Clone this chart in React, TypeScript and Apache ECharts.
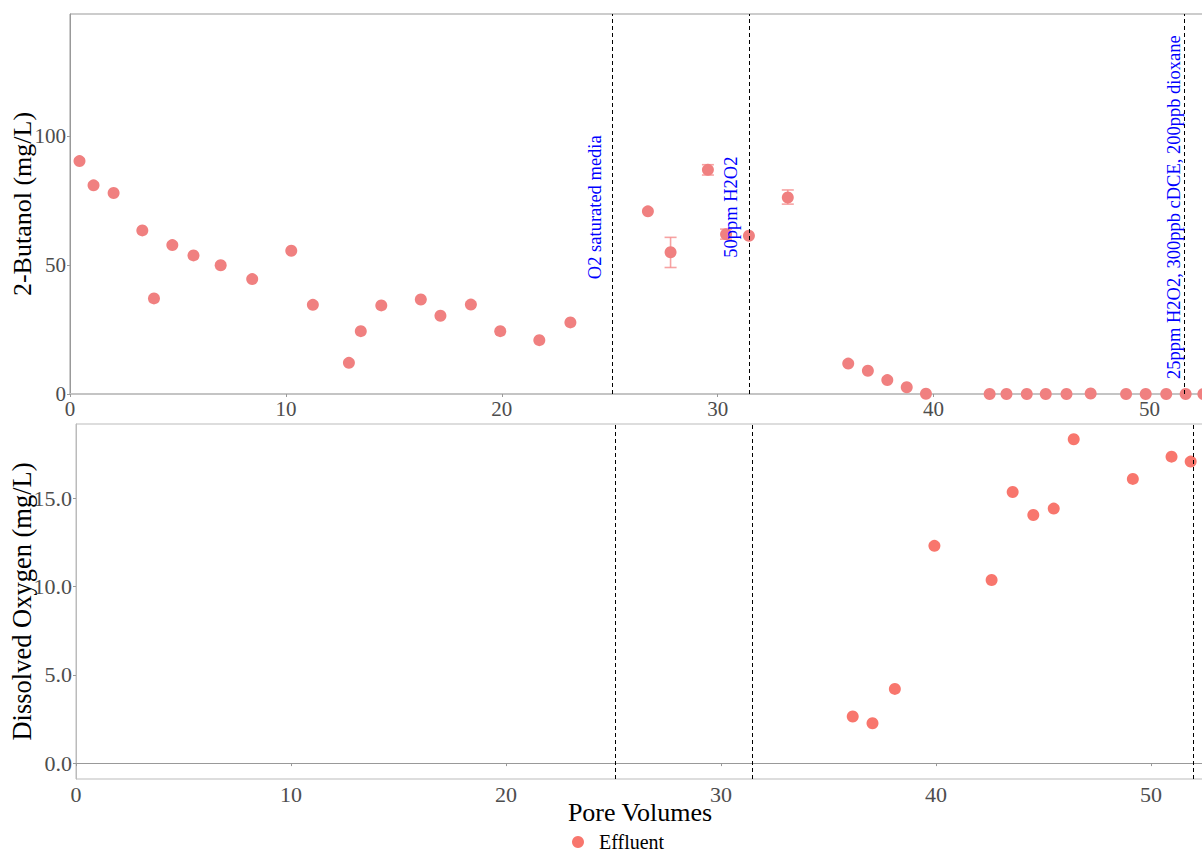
import React, { useEffect, useRef } from "react";
import * as echarts from "echarts";

// ---- Data ----
// Top panel: 2-Butanol (mg/L) vs Pore Volumes
const butanolX = [0.44, 1.09, 2.02, 3.35, 3.89, 4.74, 5.72, 6.98, 8.44, 10.25, 11.25, 12.92, 13.47, 14.42, 16.25, 17.16, 18.57, 19.93, 21.74, 23.18, 26.77, 27.82, 29.55, 30.39, 31.45, 33.25, 36.05, 36.96, 37.86, 38.76, 39.65, 42.6, 43.38, 44.32, 45.2, 46.16, 47.28, 48.92, 49.83, 50.78, 51.68, 52.5];
const butanolY = [90.4, 81.0, 78.0, 63.5, 37.1, 57.8, 53.8, 50.0, 44.6, 55.6, 34.6, 12.1, 24.4, 34.4, 36.7, 30.4, 34.7, 24.4, 20.9, 27.8, 70.9, 55.0, 87.0, 62.0, 61.4, 76.3, 11.8, 9.0, 5.4, 2.6, 0.1, 0, 0, 0, 0, 0, 0.2, 0, 0, 0, 0, 0];
// Error bars (top panel)
const errX = [27.82, 29.55, 30.39, 33.25];
const errLo = [49.1, 85.0, 60.1, 73.7];
const errHi = [60.8, 89.0, 64.0, 79.2];
// Bottom panel: Dissolved Oxygen (mg/L)
const doX = [36.13, 37.05, 38.09, 39.93, 42.59, 43.57, 44.53, 45.48, 46.41, 49.16, 50.96, 51.85];
const doY = [2.64, 2.26, 4.2, 12.3, 10.37, 15.35, 14.05, 14.41, 18.34, 16.09, 17.35, 17.07];
// Treatment change lines
const topLines = [25.12, 31.46, 51.6];
const bottomLines = [25.1, 31.44, 51.95];
// Annotations
const annotText = ["O2 saturated media", "50ppm H2O2", "25ppm H2O2, 300ppb cDCE, 200ppb dioxane"];
const annotX = [24.3, 30.6, 51.14];
const annotY = [72.5, 72.5, 72.5];
// Tick labels
const doTicks = [0, 5, 10, 15];

const FONT = '"Liberation Serif", "DejaVu Serif", serif';

export default function App() {
  const ref = useRef<HTMLDivElement>(null);
  useEffect(() => {
    if (!ref.current) return;
    const chart = echarts.init(ref.current, undefined, { renderer: "svg" });
    const lblTop = { fontSize: 21, color: "#4D4D4D", fontFamily: FONT, margin: 4 };
    const lblBot = { fontSize: 22, color: "#4D4D4D", fontFamily: FONT, margin: 4 };
    const dashed = { type: [4, 3], color: "#000", width: 1 };
    chart.setOption({
      animation: false,
      backgroundColor: "#fff",
      textStyle: { fontFamily: FONT },
      legend: {
        left: 572,
        top: 832,
        padding: 0,
        icon: "circle",
        itemWidth: 32,
        itemHeight: 12,
        symbolKeepAspect: true,
        textStyle: { fontSize: 20, color: "#000", fontFamily: FONT },
        data: [{ name: "Effluent", itemStyle: { color: "#F8766D" } }],
      },
      grid: [
        { left: 70, top: 14, width: 1134, height: 380, show: true, borderColor: "#999", borderWidth: 1, outerBoundsMode: "none", containLabel: false },
        { left: 76, top: 424, width: 1128, height: 355, show: true, borderColor: "#bbb", borderWidth: 1, outerBoundsMode: "none", containLabel: false },
      ],
      xAxis: [
        {
          gridIndex: 0, type: "value", min: 0, max: 52.53, interval: 10,
          splitLine: { show: false },
          axisLine: { show: true, lineStyle: { color: "#c4c4c4", width: 2 } },
          axisTick: { show: true, length: 3, lineStyle: { color: "#999" } },
          axisLabel: { ...lblTop, showMaxLabel: false },
        },
        {
          gridIndex: 1, type: "value", min: 0, max: 52.47, interval: 10,
          splitLine: { show: false },
          axisLine: { show: true, lineStyle: { color: "#999", width: 1 } },
          axisTick: { show: true, length: 3, lineStyle: { color: "#999" } },
          axisLabel: { ...lblBot, showMaxLabel: false },
          name: "Pore Volumes", nameLocation: "middle", nameGap: 20, nameMoveOverlap: false,
          nameTextStyle: { fontSize: 26, color: "#000", fontFamily: FONT },
        },
      ],
      yAxis: [
        {
          gridIndex: 0, type: "value", min: 0, max: 147.5, interval: 50,
          splitLine: { show: false },
          axisLine: { show: true, lineStyle: { color: "#999", width: 1 } },
          axisTick: { show: true, length: 3, lineStyle: { color: "#999" } },
          axisLabel: { ...lblTop, showMaxLabel: false },
          name: "2-Butanol (mg/L)", nameLocation: "middle", nameGap: 35, nameMoveOverlap: false,
          nameTextStyle: { fontSize: 26, color: "#000", fontFamily: FONT },
        },
        {
          gridIndex: 1, type: "value", min: -0.9, max: 19.2,
          splitLine: { show: false },
          axisLine: { show: true, lineStyle: { color: "#bbb", width: 1 } },
          axisTick: { show: true, length: 3, lineStyle: { color: "#999" }, customValues: doTicks },
          axisLabel: { ...lblBot, customValues: doTicks, formatter: (v: number) => v.toFixed(1) },
          name: "Dissolved Oxygen (mg/L)", nameLocation: "middle", nameGap: 41, nameMoveOverlap: false,
          nameTextStyle: { fontSize: 26.5, color: "#000", fontFamily: FONT },
        },
      ],
      series: [
        {
          name: "Effluent",
          type: "scatter",
          xAxisIndex: 1, yAxisIndex: 1,
          symbolSize: 12,
          itemStyle: { color: "#F8766D", opacity: 1 },
          data: doX.map((x, i) => [x, doY[i]]),
          markLine: {
            silent: true, symbol: "none", label: { show: false },
            lineStyle: dashed,
            data: bottomLines.map((x) => ({ xAxis: x })),
          },
          z: 3,
        },
        {
          name: "ErrorBars",
          type: "custom",
          xAxisIndex: 0, yAxisIndex: 0,
          data: errX.map((x, i) => [x, errLo[i], errHi[i]]),
          renderItem: (params: any, api: any) => {
            const x = api.value(0);
            const lo = api.coord([x, api.value(1)]);
            const hi = api.coord([x, api.value(2)]);
            const hw = 6;
            const st = { stroke: "rgba(245,140,140,0.8)", lineWidth: 1.6 };
            return {
              type: "group",
              children: [
                { type: "line", shape: { x1: lo[0], y1: lo[1], x2: hi[0], y2: hi[1] }, style: st },
                { type: "line", shape: { x1: lo[0] - hw, y1: lo[1], x2: lo[0] + hw, y2: lo[1] }, style: st },
                { type: "line", shape: { x1: hi[0] - hw, y1: hi[1], x2: hi[0] + hw, y2: hi[1] }, style: st },
              ],
            };
          },
          z: 2,
        },
        {
          name: "Effluent",
          type: "scatter",
          xAxisIndex: 0, yAxisIndex: 0,
          symbolSize: 12,
          itemStyle: { color: "#F08080", opacity: 1 },
          data: butanolX.map((x, i) => [x, butanolY[i]]),
          markLine: {
            silent: true, symbol: "none", label: { show: false },
            lineStyle: dashed,
            data: topLines.map((x) => ({ xAxis: x })),
          },
          z: 3,
        },
        {
          name: "Annotations",
          type: "custom",
          xAxisIndex: 0, yAxisIndex: 0,
          data: annotX.map((x, i) => [x, annotY[i], i]),
          renderItem: (params: any, api: any) => {
            const p = api.coord([api.value(0), api.value(1)]);
            const t = annotText[api.value(2)];
            return {
              type: "text",
              x: p[0], y: p[1],
              rotation: Math.PI / 2,
              style: {
                text: t, fill: "#0000FF", font: `18.5px ${FONT}`,
                align: "center", verticalAlign: "middle",
                textAlign: "center", textVerticalAlign: "middle",
              },
            };
          },
          z: 10,
        },
      ],
    });
    return () => chart.dispose();
  }, []);
  return (
    <div
      ref={ref}
      style={{ position: "fixed", left: 0, top: 0, width: 1202, height: 852, background: "#fff" }}
    />
  );
}
